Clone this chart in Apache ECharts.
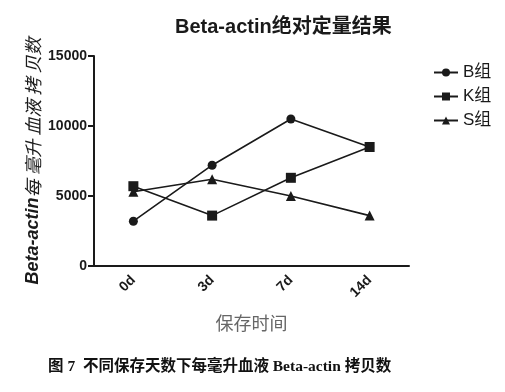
<!DOCTYPE html>
<html><head><meta charset="utf-8">
<script src="https://cdn.jsdelivr.net/npm/echarts@6/dist/echarts.min.js"></script>
<style>html,body{margin:0;padding:0;background:#fff}#c{width:505px;height:392px}</style>
</head><body><div id="c"></div>
<script>
var categories = ['0d','3d','7d','14d'];
var seriesB = [3200, 7200, 10500, 8500];
var seriesK = [5700, 3600, 6300, 8500];
var seriesS = [5300, 6200, 5000, 3600];
var seriesNames = ['B组','K组','S组'];
var yTicks = [0, 5000, 10000, 15000];

var chart = echarts.init(document.getElementById('c'), null, {renderer:'canvas'});
var lineColor = '#1a1a1a';
function mk(name, data, symbol, size){
  return {name:name, type:'line', data:data, symbol:symbol, symbolSize:size,
    lineStyle:{color:lineColor, width:1.6}, itemStyle:{color:lineColor}, z:3};
}
chart.setOption({
  animation:false,
  backgroundColor:'#fff',
  title:{text:'Beta-actin绝对定量结果', left:170, top:12,
    textStyle:{fontFamily:'Arial, "Noto Sans CJK SC"', fontWeight:'bold', fontSize:20, color:'#1a1a1a'}},
  legend:{orient:'vertical', left:428, top:59, itemGap:7, itemWidth:24, itemHeight:10,
    data:seriesNames,
    textStyle:{fontFamily:'Arial, "Noto Sans CJK SC"', fontSize:17, color:'#1a1a1a'}},
  grid:{left:94, top:56, width:315, height:210},
  xAxis:{type:'category', data:categories, boundaryGap:true,
    axisLine:{lineStyle:{color:lineColor, width:2}},
    axisTick:{alignWithLabel:true, length:6, lineStyle:{width:2, color:lineColor}},
    axisLabel:{rotate:45, fontSize:14, fontWeight:'bold', color:'#1a1a1a', fontFamily:'Arial', margin:12},
    name:'保存时间', nameLocation:'middle', nameGap:48, nameMoveOverlap:false,
    nameTextStyle:{fontSize:18, color:'#666', fontFamily:'"Noto Sans CJK SC"'}},
  yAxis:{type:'value', min:yTicks[0], max:yTicks[yTicks.length-1], interval:5000,
    splitLine:{show:false},
    axisLine:{show:true, lineStyle:{color:lineColor, width:2}},
    axisTick:{show:true, length:6, lineStyle:{width:2, color:lineColor}},
    axisLabel:{fontSize:14, fontWeight:'bold', color:'#1a1a1a', fontFamily:'Arial', margin:7,
      formatter:function(v){return String(v);}},
    name:'{a|Beta-actin}{b|每 毫升 血液 拷 贝数}', nameLocation:'middle', nameGap:52, nameMoveOverlap:false,
    nameTextStyle:{rich:{
      a:{fontSize:18, fontWeight:'bold', fontStyle:'italic', color:'#1a1a1a', fontFamily:'Arial'},
      b:{fontSize:18, fontStyle:'italic', color:'#1a1a1a', fontFamily:'"Noto Sans CJK SC"'}}}},
  series:[
    mk(seriesNames[0], seriesB, 'circle', 9),
    mk(seriesNames[1], seriesK, 'rect', 10),
    mk(seriesNames[2], seriesS, 'triangle', 10)
  ],
  graphic:[{type:'text', left:48, top:359,
    style:{text:'图 7  不同保存天数下每毫升血液 Beta-actin 拷贝数',
      font:'bold 15.5px "Liberation Serif", "Noto Sans CJK SC"', fill:'#111'}}]
});
</script></body></html>
